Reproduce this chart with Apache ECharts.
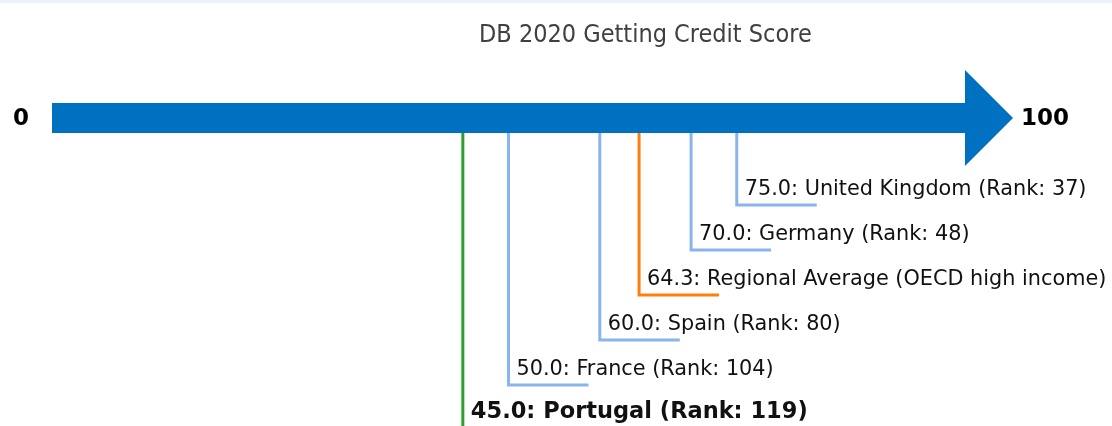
<!DOCTYPE html>
<html>
<head>
<meta charset="utf-8">
<title>DB 2020 Getting Credit Score</title>
<script src="https://cdn.jsdelivr.net/npm/echarts@6/dist/echarts.min.js"></script>
<style>
  html, body { margin: 0; padding: 0; background: #fff; }
  #scorechart { width: 1112px; height: 426px; }
</style>
</head>
<body>
<div id="scorechart"></div>
<script>
  // score scale ends
  const scaleMin = 0
  const scaleMax = 100

  // economies, top row first
  const names = ['United Kingdom', 'Germany', 'Regional Average', 'Spain', 'France', 'Portugal']
  const scores = [75.0, 70.0, 64.3, 60.0, 50.0, 45.0]
  const ranks = [37, 48, null, 80, 104, 119]
  const kinds = ['peer', 'peer', 'region', 'peer', 'peer', 'self']

  const kindColor = { peer: '#8ab4f0', region: '#ff7f0e', self: '#2ca02c' }

  function labelFor (i) {
    let txt = scores[i].toFixed(1) + ': ' + names[i]
    if (ranks[i] === null) txt += ' (OECD high income)'
    else txt += ' (Rank: ' + ranks[i] + ')'
    return txt
  }

  const leaderData = scores.map((s, i) => [s, i + 1, i])

  let myecharts = echarts.init(document.getElementById('scorechart'))
  myecharts.setOption({
    animation: false,
    title: {
      text: 'DB 2020 Getting Credit Score',
      left: 474,
      top: 18,
      textStyle: {
        fontFamily: 'DejaVu Sans Condensed',
        fontSize: 25,
        fontWeight: 'normal',
        color: '#404040'
      }
    },
    graphic: [
      { type: 'rect', shape: { x: 0, y: 0, width: 1112, height: 3 }, style: { fill: '#eaf2fb' } }
    ],
    // 45px per row: 5.9 rows over 265.5px
    grid: { left: 52, right: 147, top: 160, height: 265.5 },
    xAxis: { type: 'value', min: scaleMin, max: scaleMax, show: false },
    yAxis: { type: 'value', min: 0, max: 5.9, inverse: true, show: false },
    series: [
      {
        type: 'custom',
        name: 'arrow',
        data: [[scaleMin, scaleMax]],
        renderItem (params, api) {
          const a = api.coord([api.value(0), 0])
          const b = api.coord([api.value(1), 0])
          const top = a[1]
          return {
            type: 'group',
            children: [
              {
                type: 'polygon',
                shape: {
                  points: [
                    [a[0], top - 57], [b[0], top - 57], [b[0], top - 90],
                    [b[0] + 48, top - 42], [b[0], top + 6], [b[0], top - 27],
                    [a[0], top - 27]
                  ]
                },
                style: { fill: '#0070c0' }
              },
              {
                type: 'text',
                style: {
                  x: a[0] - 23, y: top - 41, text: String(scaleMin),
                  align: 'right', verticalAlign: 'middle',
                  font: 'bold 23px "DejaVu Sans"', fill: '#000'
                }
              },
              {
                type: 'text',
                style: {
                  x: b[0] + 56, y: top - 41, text: String(scaleMax),
                  align: 'left', verticalAlign: 'middle',
                  font: 'bold 23px "DejaVu Sans"', fill: '#000'
                }
              }
            ]
          }
        }
      },
      {
        type: 'custom',
        name: 'leaders',
        data: leaderData,
        clip: false,
        renderItem (params, api) {
          const i = api.value(2)
          const p = api.coord([api.value(0), api.value(1)])
          const barBottom = api.coord([api.value(0), 0])[1] - 27
          const kind = kinds[i]
          const bold = kind === 'self'
          return {
            type: 'group',
            children: [
              {
                type: 'polyline',
                shape: { points: [[p[0], barBottom], [p[0], p[1]], [p[0] + 80, p[1]]] },
                style: { stroke: kindColor[kind], lineWidth: 3, fill: null }
              },
              {
                type: 'text',
                style: {
                  x: p[0] + 8, y: p[1] - (bold ? 18 : 15), text: labelFor(i),
                  align: 'left', verticalAlign: 'middle',
                  font: (bold ? 'bold 22.5px' : '20.8px') + ' "DejaVu Sans"', fill: '#111'
                }
              }
            ]
          }
        }
      }
    ]
  })
</script>
</body>
</html>
